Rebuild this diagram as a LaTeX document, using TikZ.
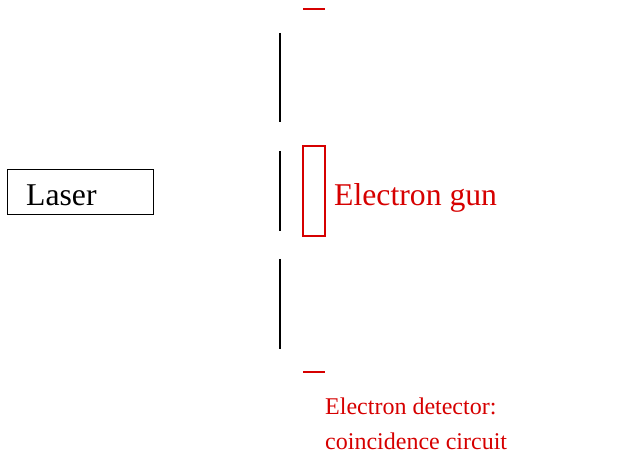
\documentclass[tikz,border=0pt]{standalone}
\usepackage{fontspec}
\setmainfont{Liberation Serif}
\definecolor{gunred}{RGB}{214,0,0}
\begin{document}
\begin{tikzpicture}[x=1pt,y=-1pt,
  slit/.style={line width=1.2pt,black},
  redpart/.style={line width=1.3pt,draw=gunred},
  bigtext/.style={inner sep=0pt,anchor=base west,font=\fontsize{31.7}{36}\selectfont},
  smalltext/.style={inner sep=0pt,anchor=base west,text=gunred,font=\fontsize{24}{28}\selectfont}]
\useasboundingbox (0,0) rectangle (622,454);
% laser box
\node[draw,line width=0.8pt,minimum width=146pt,minimum height=45pt,inner sep=0pt] (laserbox) at (80,191.5) {};
\node[bigtext] (laser) at (26,206) {Laser};
% double slit screen
\draw[slit] (280,33) coordinate (s1a) -- (280,122) coordinate (s1b);
\draw[slit] (280,151) coordinate (s2a) -- (280,231) coordinate (s2b);
\draw[slit] (280,259) coordinate (s3a) -- (280,349) coordinate (s3b);
% electron gun
\draw[redpart] (303,146) coordinate (gunA) rectangle (325,236) coordinate (gunB);
\node[bigtext,text=gunred] (gunlabel) at (334,206) {Electron gun};
% detector marks
\draw[redpart] (303,9) coordinate (d1a) -- (325,9) coordinate (d1b);
\draw[redpart] (303,372) coordinate (d2a) -- (325,372) coordinate (d2b);
\node[smalltext] (det1) at (325,415) {Electron detector:};
\node[smalltext] (det2) at (325,450) {coincidence circuit};
\end{tikzpicture}
\end{document}
